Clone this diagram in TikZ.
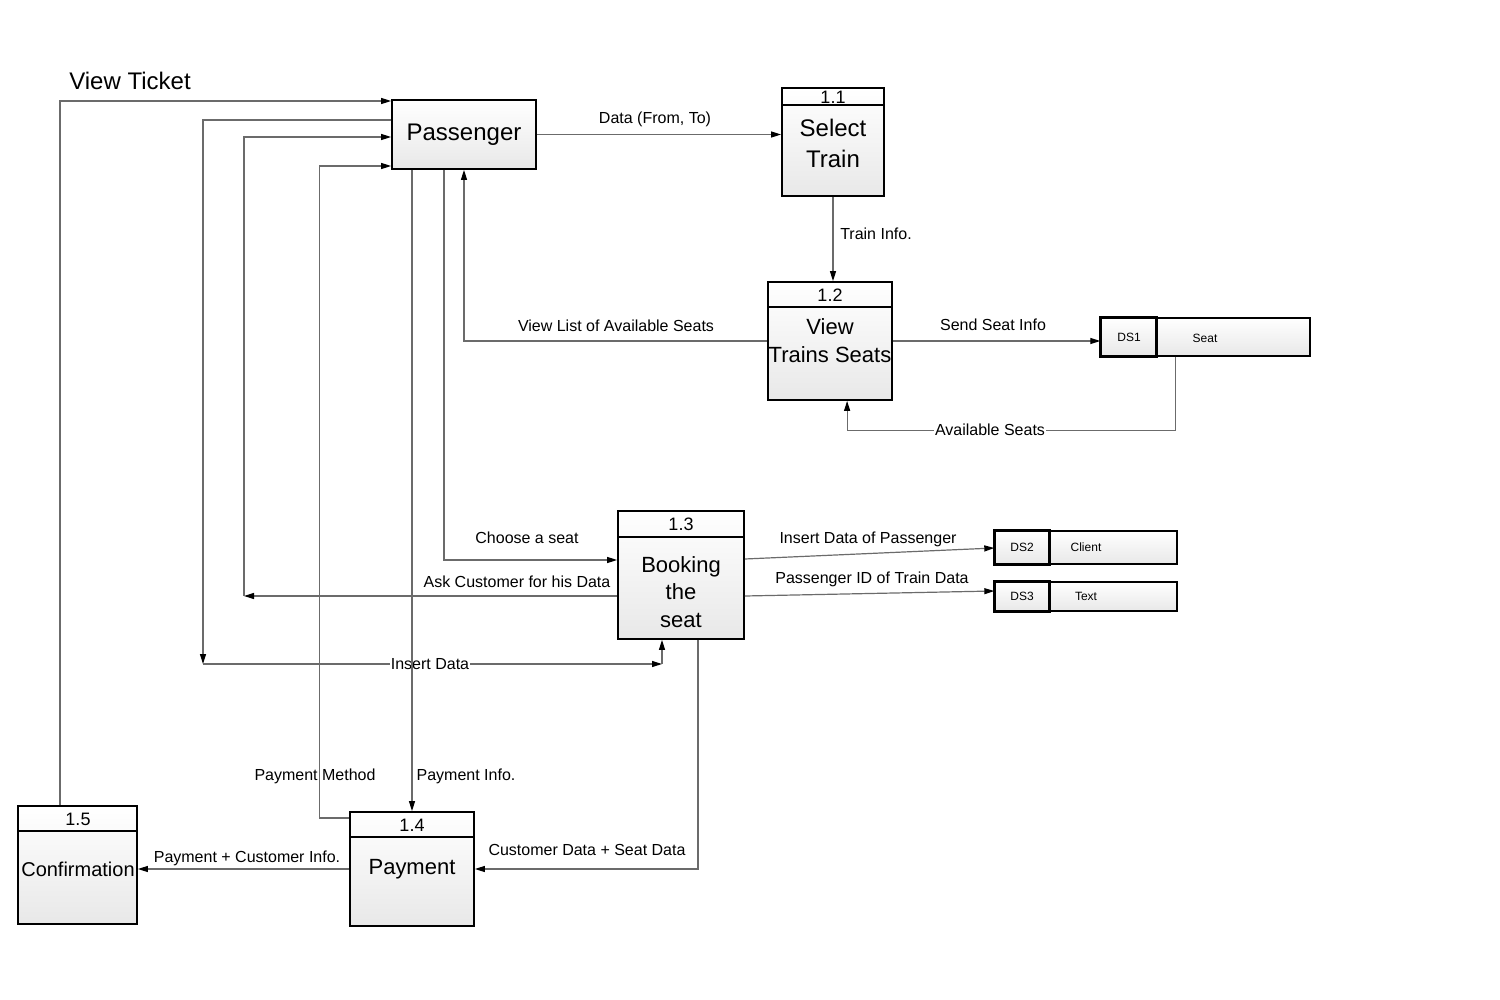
\documentclass[tikz,border=0pt]{standalone}
\usepackage{fontspec}
\setmainfont{Liberation Sans}
\usetikzlibrary{arrows.meta}
\begin{document}
\begin{tikzpicture}[x=1pt,y=-1pt,
 proc/.style={draw=black,line width=1.8pt,top color=white,bottom color=black!9,inner sep=0pt},
 store/.style={draw=black,line width=1.4pt,top color=white,bottom color=black!9,inner sep=0pt},
 flow/.style={draw=black!58,line width=1.2pt,-{Triangle[length=10pt,width=6pt,color=black]}},
 lbl/.style={font=\fontsize{16}{19}\selectfont,inner sep=1pt,text=black},
 onl/.style={lbl,fill=white},
 num/.style={font=\fontsize{18}{21}\selectfont,inner sep=0pt},
 ttl/.style={font=\fontsize{22}{28}\selectfont,inner sep=0pt,align=center},
 dst/.style={font=\fontsize{12}{14}\selectfont,inner sep=0pt},
 hdr/.style={draw=black,line width=1.8pt},
 cell/.style={draw=black,line width=2.4pt}
]
\path[use as bounding box] (0,0) rectangle (1500,1000);

% Passenger
\node[proc,minimum width=144pt,minimum height=69pt,font=\fontsize{24}{29}\selectfont] (pas) at (464,134.5) {Passenger};

% 1.1
\node[proc,minimum width=102pt,minimum height=108pt] (s11) at (833,142) {};
\draw[hdr] ([yshift=-18pt]s11.north west) -- ([yshift=-18pt]s11.north east);
\node[num] (n11) at (833,97) {1.1};
\node[ttl,font=\fontsize{24}{31}\selectfont] (t11) at (833,143) {Select\\Train};

% 1.2
\node[proc,minimum width=124pt,minimum height=118pt] (s12) at (830,341) {};
\draw[hdr] ([yshift=-26pt]s12.north west) -- ([yshift=-26pt]s12.north east);
\node[num] (n12) at (830,295) {1.2};
\node[ttl] (t12) at (830,341) {View\\Trains Seats};

% 1.3
\node[proc,minimum width=126pt,minimum height=128pt] (s13) at (681,575) {};
\draw[hdr] ([yshift=-27pt]s13.north west) -- ([yshift=-27pt]s13.north east);
\node[num] (n13) at (681,524) {1.3};
\node[ttl,font=\fontsize{22}{27.5}\selectfont] (t13) at (681,592) {Booking\\the\\seat};

% 1.4
\node[proc,minimum width=124pt,minimum height=114pt] (s14) at (412,869) {};
\draw[hdr] ([yshift=-26pt]s14.north west) -- ([yshift=-26pt]s14.north east);
\node[num] (n14) at (412,825) {1.4};
\node[ttl] (t14) at (412,869) {Payment};

% 1.5
\node[proc,minimum width=119pt,minimum height=118pt] (s15) at (77.5,865) {};
\draw[hdr] ([yshift=-26pt]s15.north west) -- ([yshift=-26pt]s15.north east);
\node[num] (n15) at (78,819) {1.5};
\node[ttl,font=\fontsize{20}{24}\selectfont] (t15) at (78,869) {Confirmation};

% Data stores
\node[store,minimum width=209pt,minimum height=38pt] (ds1) at (1205.5,337) {};
\draw[cell] (ds1.north west) rectangle ([xshift=56pt]ds1.south west);
\node[dst] (d1a) at (1129,337) {DS1};
\node[dst] (d1b) at (1205,338) {Seat};

\node[store,minimum width=182pt,minimum height=33pt] (ds2) at (1086,547.5) {};
\draw[cell] (ds2.north west) rectangle ([xshift=55pt]ds2.south west);
\node[dst] (d2a) at (1022,547) {DS2};
\node[dst] (d2b) at (1086,547) {Client};

\node[store,minimum width=182pt,minimum height=29pt] (ds3) at (1086,596.5) {};
\draw[cell] (ds3.north west) rectangle ([xshift=55pt]ds3.south west);
\node[dst] (d3a) at (1022,596) {DS3};
\node[dst] (d3b) at (1086,596) {Text};

% helper coordinates
\coordinate (askc) at (244,596);
\coordinate (insA) at (203,664);
\coordinate (insB) at (662,664);

% Connectors
\draw[flow] (pas.east) -- (s11.west |- pas.east);
\node[lbl] (l1) at (655,119) {Data (From, To)};

\draw[flow] (s11.south) -- (s11.south |- s12.north);
\node[lbl] (l2) at (876,234) {Train Info.};

\draw[flow] (s12.west) -| (pas.south);
\node[lbl] (l3) at (616,326) {View List of Available Seats};

\draw[flow] (s12.east) -- (ds1.west |- s12.east);
\node[lbl] (l4) at (993,325) {Send Seat Info};

\draw[flow] ([xshift=75pt]ds1.south west) -- ++(0,74) -| ([xshift=80pt]s12.south west);
\node[onl] (l5) at (990,430) {Available Seats};

\draw[flow] ([xshift=-20pt]pas.south) |- ([yshift=15pt]s13.west);
\node[lbl] (l6) at (527,538) {Choose a seat};

\draw[flow] ([yshift=-21pt]s13.west) -- (askc);
\draw[flow] (askc) |- ([yshift=-2.5pt]pas.west);
\node[lbl] (l7) at (517,582) {Ask Customer for his Data};

\draw[flow] ([yshift=14.5pt]pas.west) -| (insA);
\draw[flow] (insA) -- (insB);
\draw[flow] (insB) -- (insB |- s13.south);
\node[onl] (l8) at (430,664) {Insert Data};

\draw[flow] ([xshift=-17.5pt]s15.north) |- ([yshift=33.5pt]pas.west);
\node[font=\fontsize{24}{29}\selectfont,inner sep=0pt] (l9) at (130,81) {View Ticket};

\draw[flow] ([yshift=51pt]s14.west) -- ++(-30,0) |- ([yshift=-31.5pt]pas.west);
\node[lbl] (l10) at (315,776) {Payment Method};

\draw[flow] ([xshift=-52pt]pas.south) -- (s14.north);
\node[lbl] (l11) at (466,776) {Payment Info.};

\draw[flow] ([xshift=17pt]s13.south) |- (s14.east);
\node[lbl] (l12) at (587,850) {Customer Data + Seat Data};

\draw[flow] (s14.west) -- (s15.east |- s14.west);
\node[lbl] (l13) at (247,858) {Payment + Customer Info.};

\draw[flow] ([yshift=16pt]s13.east) -- ([yshift=-0.5pt]ds2.west);
\node[lbl] (l14) at (868,539) {Insert Data of Passenger};

\draw[flow] ([yshift=-21pt]s13.east) -- ([yshift=5.5pt]ds3.west);
\node[lbl] (l15) at (872,579) {Passenger ID of Train Data};
\end{tikzpicture}
\end{document}
